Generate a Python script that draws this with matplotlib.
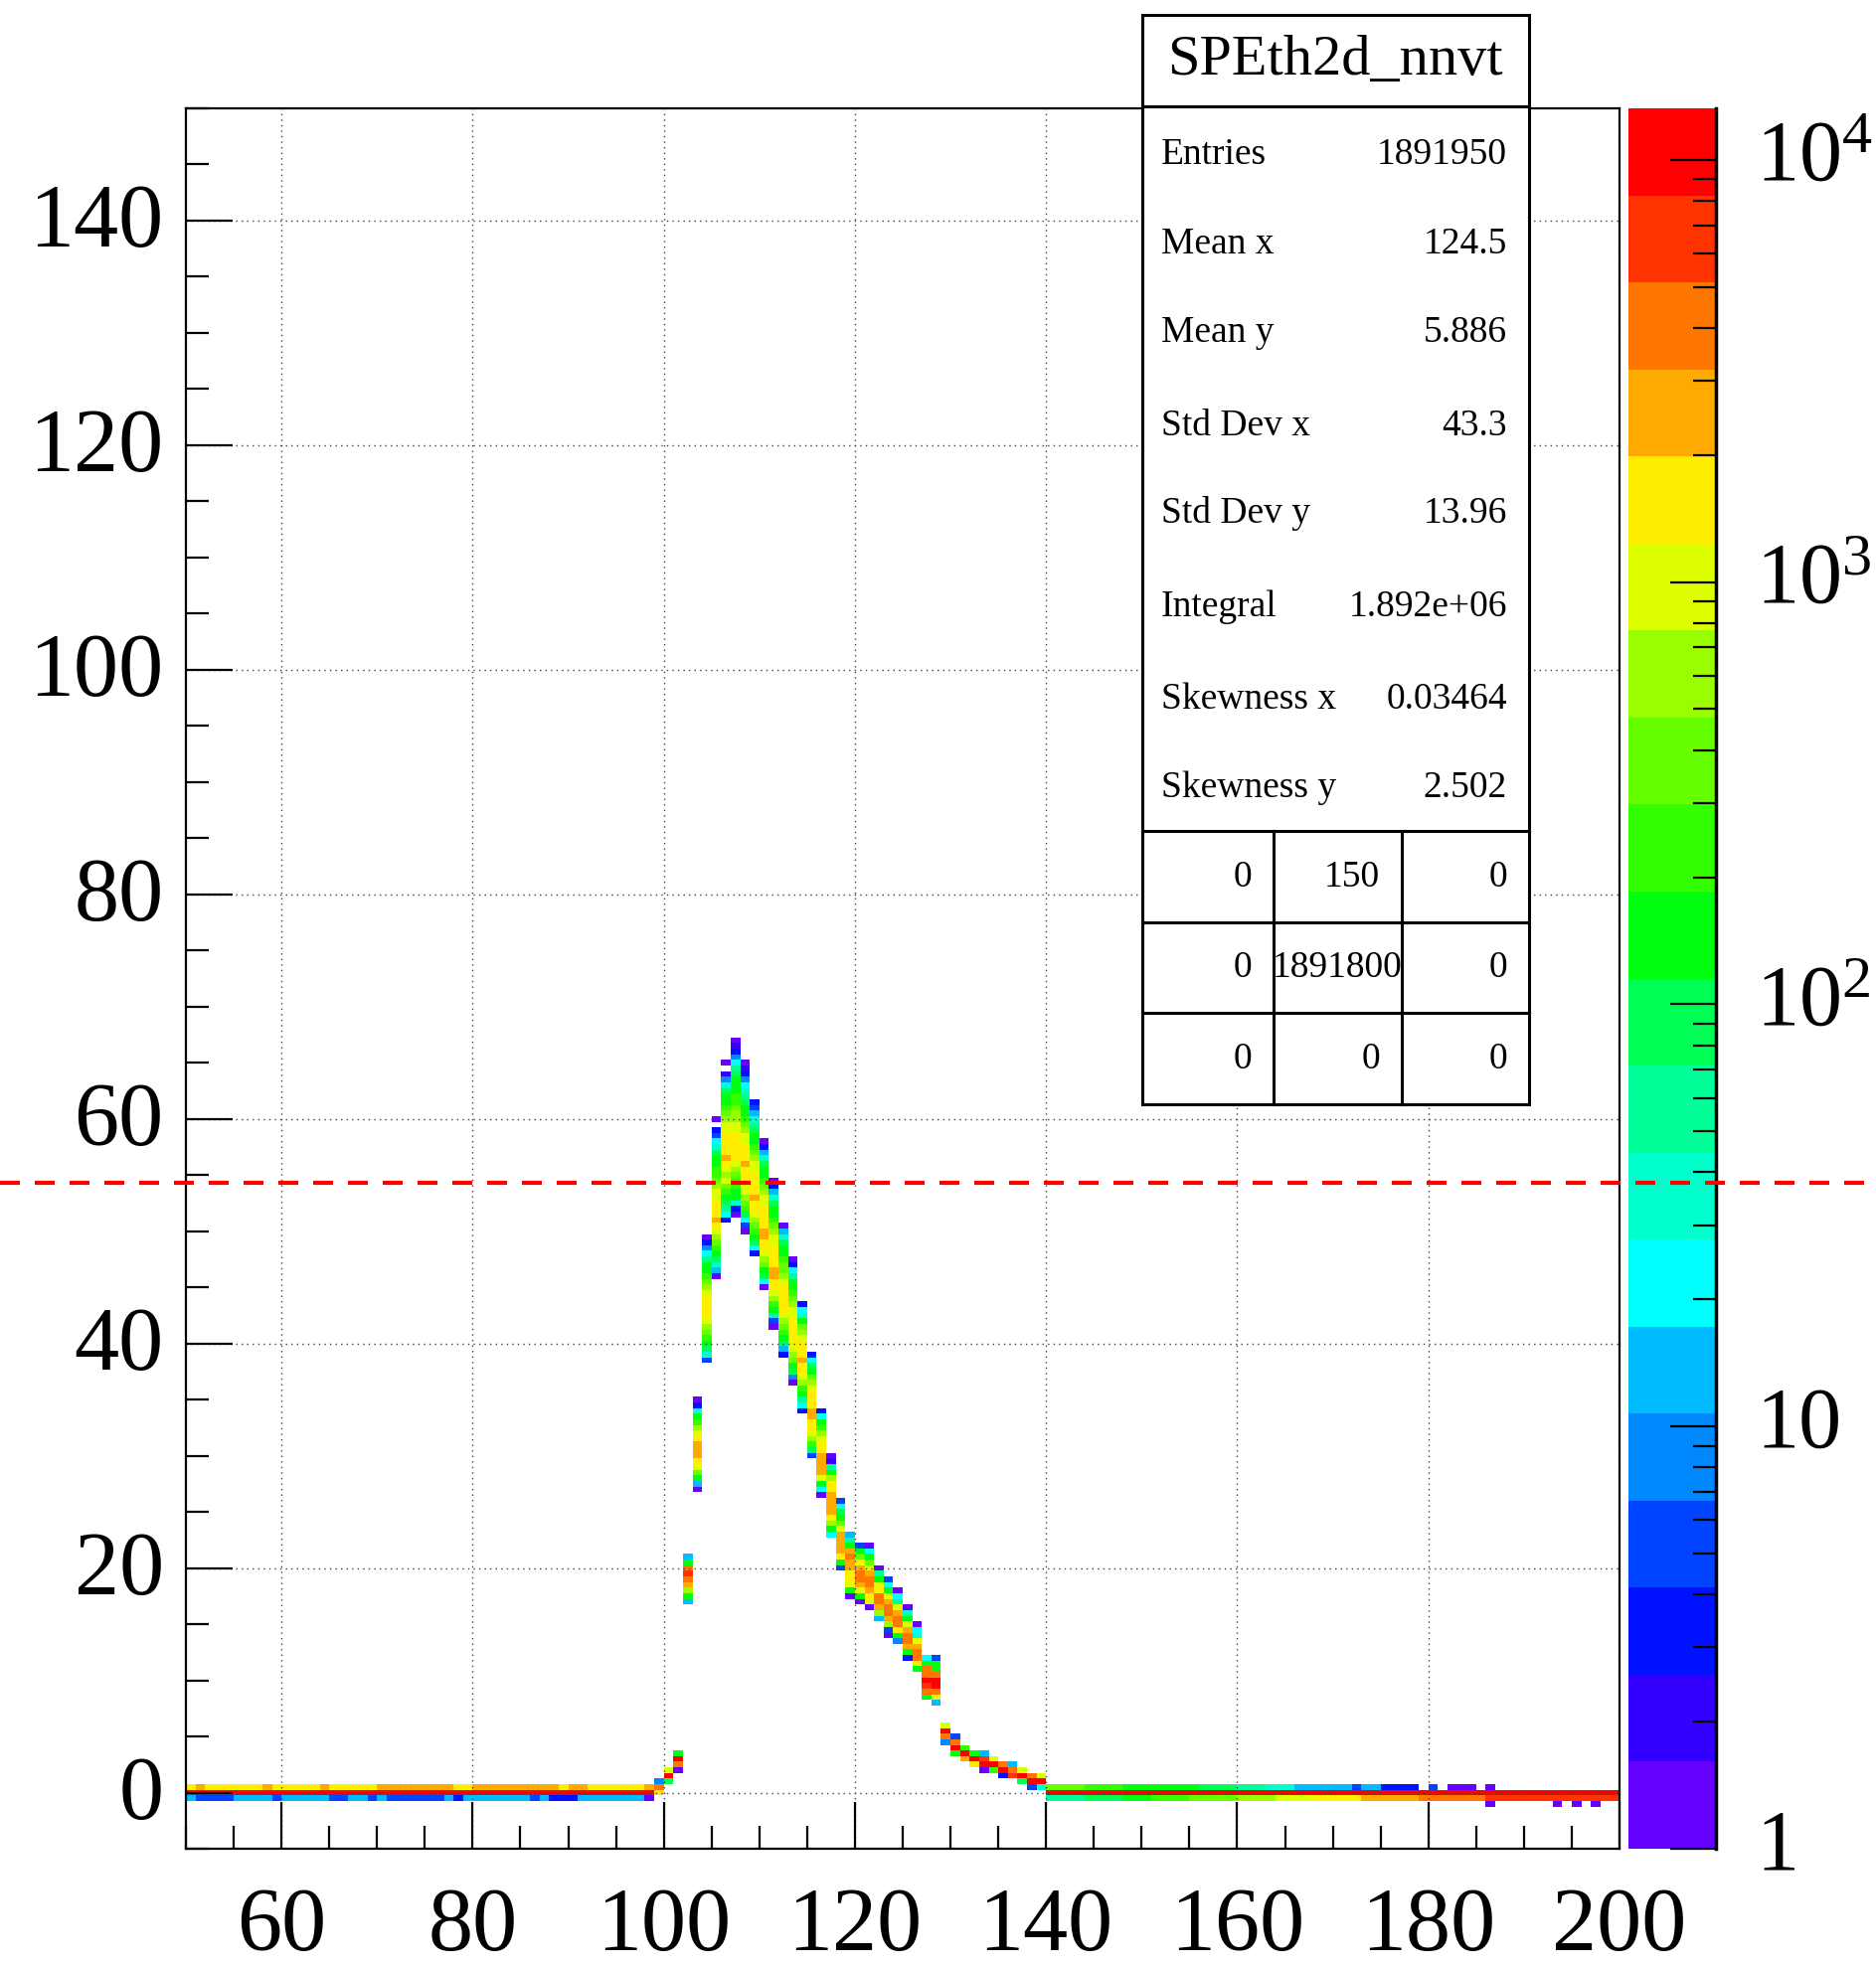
import matplotlib
matplotlib.use("Agg")
import matplotlib.pyplot as plt
import matplotlib.transforms as mtransforms
import numpy as np
from matplotlib.colors import ListedColormap, LogNorm
from matplotlib.lines import Line2D
from matplotlib.patches import Rectangle
from matplotlib.ticker import MultipleLocator, LogLocator, NullFormatter

plt.rcParams["font.family"] = ["Liberation Serif", "DejaVu Serif"]
plt.rcParams["mathtext.fontset"] = "custom"
plt.rcParams["mathtext.rm"] = "Liberation Serif"
plt.rcParams["mathtext.it"] = "Liberation Serif:italic"

# --- histogram binning (x: 1 unit bins, y: 0.5 unit bins centred on multiples of 0.5)
x_edges = np.arange(50, 201, 1)
y_edges = np.arange(-5.25, 150.3, 0.5)

# --- baseline rows: (x_start, x_stop, counts) segments, one list per y row
row_p05 = [(50, 51, 1540), (51, 52, 2470), (52, 58, 1540), (58, 59, 2470), (59, 64, 1540),
           (64, 65, 2470), (65, 70, 1540), (70, 78, 2470), (78, 80, 1540), (80, 89, 2470),
           (89, 90, 1540), (90, 92, 2470), (92, 98, 1540), (98, 99, 2470),
           (140, 144, 370), (144, 148, 230), (148, 156, 145), (156, 160, 90), (160, 163, 56),
           (163, 166, 35), (166, 172, 14), (172, 173, 5), (173, 175, 14), (175, 179, 3),
           (180, 181, 5), (182, 185, 1), (186, 187, 1)]
row_0 = [(50, 99, 10200), (140, 200, 10200)]
row_m05 = [(50, 51, 14), (51, 55, 5), (55, 59, 14), (59, 60, 5), (60, 65, 14), (65, 67, 5),
           (67, 69, 14), (69, 70, 5), (70, 71, 14), (71, 77, 5), (77, 78, 14), (78, 79, 3),
           (79, 86, 14), (86, 87, 5), (87, 88, 14), (88, 91, 3), (91, 98, 14), (98, 99, 1),
           (140, 144, 56), (144, 148, 90), (148, 151, 145), (151, 155, 230), (155, 160, 370),
           (160, 164, 600), (164, 168, 960), (168, 173, 1540), (173, 179, 2470),
           (179, 186, 3970), (186, 200, 6370)]
row_m10 = [(186, 187, 1), (193, 194, 1), (195, 196, 1), (197, 198, 1)]
baseline_rows = {0.5: row_p05, 0.0: row_0, -0.5: row_m05, -1.0: row_m10}

# --- signal columns: x bin, y of lowest cell, counts from bottom to top (0 = empty)
col_x = list(range(99, 140))
col_ybot = [0.0, 1.0, 2.0, 17.0, 27.0, 38.5, 46.0, 51.0, 51.5, 50.0, 48.0, 45.0, 41.5, 39.0,
            36.5, 34.0, 30.0, 26.5, 23.0, 20.0, 17.5, 17.0, 16.5, 15.5, 14.0, 13.5, 12.0, 11.0,
            8.5, 8.0, 4.5, 3.5, 3.0, 2.5, 2.0, 2.0, 1.5, 1.5, 1.0, 0.5, 0.5]
col_counts = [
    [1540, 3970, 8],
    [90, 10200, 960],
    [1, 3970, 10200, 145],
    [14, 145, 600, 2470, 3970, 6370, 3970, 145, 14],
    [1, 14, 145, 370, 960, 1540, 2470, 2470, 2470, 1540, 960, 600, 230, 145, 22, 3, 1],
    [5, 35, 90, 145, 230, 370, 600, 960, 1540, 1540, 1540, 1540, 960, 600, 370, 230, 145, 145,
     56, 22, 8, 3, 1],
    [1, 14, 35, 90, 145, 230, 370, 600, 960, 1540, 2470, 1540, 1540, 1540, 960, 960, 600, 370,
     230, 230, 145, 145, 90, 35, 22, 5, 3, 0, 1],
    [3, 22, 56, 90, 145, 230, 370, 960, 600, 960, 1540, 2470, 1540, 1540, 1540, 1540, 960, 960,
     600, 370, 230, 145, 145, 90, 35, 8, 2, 0, 1],
    [1, 3, 35, 145, 145, 230, 230, 370, 600, 960, 1540, 1540, 1540, 1540, 1540, 960, 960, 600,
     600, 370, 230, 230, 145, 145, 145, 90, 56, 22, 8, 3, 2, 1],
    [1, 5, 22, 90, 230, 370, 600, 960, 960, 1540, 1540, 1540, 2470, 1540, 1540, 1540, 960, 960,
     600, 370, 230, 145, 145, 90, 56, 35, 22, 8, 3, 2, 1],
    [3, 22, 90, 145, 230, 370, 600, 960, 1540, 1540, 2470, 1540, 1540, 1540, 1540, 960, 960,
     600, 370, 230, 145, 145, 90, 56, 35, 14, 5, 3],
    [1, 22, 90, 145, 370, 600, 960, 1540, 1540, 2470, 2470, 1540, 1540, 1540, 1540, 960, 960,
     600, 370, 230, 145, 145, 90, 35, 14, 3, 1],
    [1, 5, 56, 145, 230, 600, 960, 1540, 1540, 2470, 2470, 1540, 1540, 1540, 1540, 960, 960,
     600, 370, 230, 145, 145, 90, 35, 14, 3, 1],
    [3, 14, 90, 145, 230, 370, 600, 960, 1540, 1540, 1540, 1540, 1540, 960, 600, 370, 370, 230,
     145, 145, 90, 35, 14, 1],
    [1, 8, 90, 145, 370, 600, 960, 1540, 1540, 1540, 1540, 1540, 960, 960, 600, 370, 230, 145,
     145, 56, 22, 3, 1],
    [3, 22, 56, 145, 230, 600, 960, 1540, 1540, 2470, 1540, 1540, 1540, 960, 600, 370, 145, 35,
     22, 3],
    [5, 90, 230, 600, 960, 1540, 1540, 2470, 2470, 1540, 1540, 1540, 960, 600, 370, 145, 90,
     22, 3],
    [1, 22, 145, 960, 2470, 2470, 2470, 2470, 1540, 1540, 960, 600, 230, 145, 22, 3],
    [22, 145, 600, 1540, 2470, 2470, 2470, 2470, 1540, 1540, 600, 145, 56, 2, 1],
    [5, 145, 1540, 2470, 2470, 2470, 2470, 960, 370, 145, 90, 22, 5],
    [1, 145, 960, 1540, 1540, 2470, 2470, 3970, 2470, 145, 56, 14],
    [1, 145, 960, 2470, 3970, 3970, 2470, 1540, 370, 145, 5],
    [1, 960, 1540, 2470, 3970, 3970, 2470, 960, 370, 145, 22, 1],
    [14, 600, 2470, 3970, 3970, 1540, 960, 145, 56, 1],
    [1, 5, 600, 2470, 3970, 3970, 2470, 960, 145, 22, 5],
    [8, 145, 1540, 3970, 3970, 2470, 960, 56, 22, 1],
    [3, 145, 2470, 3970, 3970, 2470, 960, 145, 35, 1],
    [145, 1540, 3970, 3970, 2470, 960, 35, 22, 1],
    [145, 3970, 6370, 10200, 3970, 3970, 145, 22],
    [14, 1540, 3970, 10200, 10200, 3970, 145, 145, 5],
    [8, 3970, 10200, 960],
    [145, 10200, 3970, 5],
    [2470, 10200, 230],
    [1540, 10200, 145],
    [1, 10200, 6370, 14],
    [230, 10200, 960],
    [3, 10200, 3970],
    [6370, 3970, 14],
    [90, 10200, 960],
    [5, 10200, 3970],
    [35, 10200, 960],
]

z_max = 13243
palette = ["#6600ff", "#3300ff", "#0011ff", "#0044ff", "#0088ff", "#00bbff", "#00ffff",
           "#00ffcc", "#00ff99", "#00ff55", "#00ff11", "#33ff00", "#66ff00", "#99ff00",
           "#ddff00", "#ffee00", "#ffaa00", "#ff7700", "#ff3300", "#ff0000"]
threshold_y = 54.3

title = "SPEth2d_nnvt"
stat_names = ["Entries", "Mean x", "Mean y", "Std Dev x", "Std Dev y", "Integral",
              "Skewness x", "Skewness y"]
stat_values = ["1891950", "124.5", "5.886", "43.3", "13.96", "1.892e+06", "0.03464", "2.502"]
overflow_table = [["0", "150", "0"], ["0", "1891800", "0"], ["0", "0", "0"]]

# --- build the 2D histogram
H = np.zeros((len(y_edges) - 1, len(x_edges) - 1))
y_first = y_edges[0] + 0.25


def row_index(y):
    return int(round((y - y_first) / 0.5))


for y, segs in baseline_rows.items():
    for x0, x1, c in segs:
        H[row_index(y), x0 - 50:x1 - 50] = c
for x0, yb, cnts in zip(col_x, col_ybot, col_counts):
    j = row_index(yb)
    H[j:j + len(cnts), x0 - 50] = cnts
Hm = np.ma.masked_equal(H, 0)

W, Hpx = 1887, 1980
fig = plt.figure(figsize=(W / 100, Hpx / 100), dpi=100)


def fx(px):
    return px / W


def fy(py):
    return 1 - py / Hpx


ax = fig.add_axes([fx(187), fy(1860), fx(1629 - 187), (1860 - 109) / Hpx])
cax = fig.add_axes([fx(1638), fy(1860), fx(88), (1860 - 109) / Hpx])

mesh = ax.pcolormesh(x_edges, y_edges, Hm, cmap=ListedColormap(palette),
                     norm=LogNorm(vmin=1, vmax=z_max))
ax.set_xlim(50, 200)
ax.set_ylim(-5, 150)
ax.xaxis.set_major_locator(MultipleLocator(20))
ax.xaxis.set_minor_locator(MultipleLocator(5))
ax.yaxis.set_major_locator(MultipleLocator(20))
ax.yaxis.set_minor_locator(MultipleLocator(5))
ax.tick_params(which="both", direction="in", top=False, right=False, width=1.6,
               labelsize=65, color="black")
ax.tick_params(which="major", length=34)
ax.tick_params(which="minor", length=16.5)
ax.tick_params(axis="y", pad=16)
ax.tick_params(axis="x", pad=28)
ax.set_axisbelow(False)
ax.grid(True, which="major", color="#444444", linestyle=(0, (1, 3)), linewidth=1.0)
for s in ax.spines.values():
    s.set_linewidth(1.6)
# ROOT puts the label digits a touch below the tick
shift = mtransforms.ScaledTranslation(0, -4 / 100, fig.dpi_scale_trans)
for lbl in ax.get_yticklabels():
    lbl.set_verticalalignment("center")
    lbl.set_transform(lbl.get_transform() + shift)

# --- colour palette axis
cb = fig.colorbar(mesh, cax=cax)
cb.outline.set_visible(False)
cax.yaxis.set_ticks_position("right")
cb.set_ticks([1, 10, 100, 1000, 10000],
             labels=["1", "10", "$10^{2}$", "$10^{3}$", "$10^{4}$"])
cax.yaxis.set_minor_locator(LogLocator(base=10, subs=range(2, 10)))
cax.yaxis.set_minor_formatter(NullFormatter())
cax.tick_params(which="both", direction="in", width=1.6, labelsize=62, pad=29)
cax.tick_params(which="major", length=33)
cax.tick_params(which="minor", length=16.5)
plt.setp(cax.get_yticklabels(), va="center")
cax.plot([1, 1], [0, 1], transform=cax.transAxes, color="black", lw=2.5, clip_on=False)

# --- statistics box
lw_box = 2.2
fig.add_artist(Rectangle((fx(1149), fy(107)), fx(389), 92 / Hpx, transform=fig.transFigure,
                         facecolor="white", edgecolor="black", lw=lw_box, zorder=10))
fig.text(fx(1343), fy(61), title, ha="center", va="center", fontsize=42, zorder=11)
fig.add_artist(Rectangle((fx(1149), fy(1111)), fx(389), (1111 - 107) / Hpx,
                         transform=fig.transFigure, facecolor="white", edgecolor="black",
                         lw=lw_box, zorder=10))
stat_rows_y = [156, 246, 335, 429, 517, 611, 704, 793]
for name, val, py in zip(stat_names, stat_values, stat_rows_y):
    fig.text(fx(1168), fy(py), name, ha="left", va="center", fontsize=27, zorder=11)
    fig.text(fx(1516), fy(py), val, ha="right", va="center", fontsize=27, zorder=11)

table_lines_y = [836, 928, 1019]
for py in table_lines_y:
    fig.add_artist(Line2D([fx(1149), fx(1538)], [fy(py), fy(py)], transform=fig.transFigure,
                          color="black", lw=lw_box, zorder=11))
cell_edges = [1149, 1281, 1410, 1538]
for px in cell_edges[1:-1]:
    fig.add_artist(Line2D([fx(px), fx(px)], [fy(836), fy(1111)], transform=fig.transFigure,
                          color="black", lw=lw_box, zorder=11))
cell_y = [883, 974, 1066]
for row, py in zip(overflow_table, cell_y):
    for k, txt in enumerate(row):
        left, right = cell_edges[k], cell_edges[k + 1]
        if len(txt) > 5:
            # too wide for the cell: ROOT centres it
            fig.text(fx((left + right) / 2), fy(py), txt, ha="center", va="center",
                     fontsize=27, zorder=12)
        else:
            fig.text(fx(right - 22), fy(py), txt, ha="right", va="center", fontsize=27,
                     zorder=12)

# --- red dashed threshold line across the whole canvas
trans = mtransforms.blended_transform_factory(fig.transFigure, ax.transData)
fig.add_artist(Line2D([0, 1], [threshold_y, threshold_y], transform=trans, color="red",
                      lw=3, linestyle=(0, (4.8, 3.6)), zorder=20))

fig.savefig("out.png", dpi=100)
